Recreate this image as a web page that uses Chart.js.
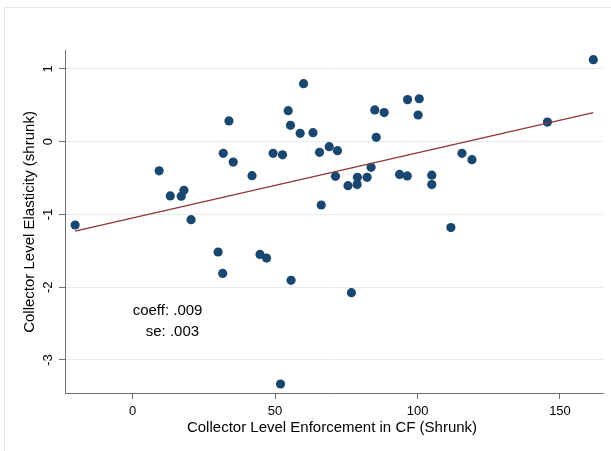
<!DOCTYPE html>
<html><head><meta charset="utf-8">
<script src="https://cdn.jsdelivr.net/npm/chart.js@4.4.1/dist/chart.umd.min.js"></script>
<style>html,body{margin:0;padding:0;background:#fff;}#wrap{width:611px;height:451px;}</style>
</head><body><div id="wrap"><canvas id="c" width="611" height="451"></canvas></div>
<script>
// Data
const enforcement = [-20.2, 9.3, 13.2, 17.05, 18.0, 20.5, 30.0, 33.8, 31.8, 35.3, 41.9, 31.6, 44.7, 47.0, 55.6, 51.9, 49.3, 52.6, 54.6, 55.4, 58.8, 60.0, 63.3, 65.6, 69.0, 71.9, 66.2, 71.2, 75.6, 78.9, 78.8, 82.3, 83.7, 85.0, 88.3, 85.5, 96.5, 100.6, 100.2, 93.7, 96.4, 105.0, 105.0, 111.7, 115.6, 119.1, 145.6, 161.7, 76.8];
const elasticity = [-1.145, -0.40, -0.746, -0.75, -0.668, -1.072, -1.516, 0.285, -0.16, -0.28, -0.467, -1.81, -1.55, -1.60, -1.905, -3.33, -0.16, -0.18, 0.426, 0.225, 0.115, 0.797, 0.124, -0.146, -0.069, -0.124, -0.87, -0.476, -0.605, -0.49, -0.59, -0.49, -0.352, 0.436, 0.40, 0.06, 0.578, 0.59, 0.367, -0.45, -0.47, -0.46, -0.59, -1.18, -0.16, -0.247, 0.27, 1.127, -2.075];
const fitX = [-20.2, 161.7];
const fitY = [-1.23, 0.40];
const xTicks = [0, 50, 100, 150];
const yTicks = [-3, -2, -1, 0, 1];
const xTitle = 'Collector Level Enforcement in CF (Shrunk)';
const yTitle = 'Collector Level Elasticity (shrunk)';
const noteLines = ['coeff: .009', 'se: .003'];
const noteX = [0, 4.6];
const noteY = [-2.33, -2.62];

const FONT = '"Liberation Sans", Arial, Helvetica, sans-serif';

const decor = {
  id: 'decor',
  beforeDraw(chart) {
    const ctx = chart.ctx;
    ctx.save();
    ctx.fillStyle = '#ffffff';
    ctx.fillRect(0, 0, chart.width, chart.height);
    ctx.strokeStyle = '#e2eaec';
    ctx.lineWidth = 1;
    ctx.beginPath();
    ctx.moveTo(4.5, chart.height);
    ctx.lineTo(4.5, 7.5);
    ctx.lineTo(chart.width, 7.5);
    ctx.stroke();
    ctx.restore();
  },
  afterDraw(chart) {
    const ctx = chart.ctx;
    const xs = chart.scales.x, ys = chart.scales.y;
    ctx.save();
    ctx.fillStyle = '#000';
    // y tick labels rotated
    ctx.font = '13px ' + FONT;
    ctx.textAlign = 'center';
    ctx.textBaseline = 'middle';
    ys.ticks.forEach(t => {
      const py = ys.getPixelForValue(t.value);
      ctx.save();
      ctx.translate(48, py);
      ctx.rotate(-Math.PI / 2);
      ctx.fillText(String(t.value), 0, 0);
      ctx.restore();
    });
    // axis titles
    ctx.font = '15px ' + FONT;
    ctx.fillText(xTitle, 332, 428);
    ctx.save();
    ctx.translate(30, 222);
    ctx.rotate(-Math.PI / 2);
    ctx.fillText(yTitle, 0, 0);
    ctx.restore();
    // notes
    ctx.textAlign = 'left';
    noteLines.forEach((s, i) => {
      ctx.fillText(s, xs.getPixelForValue(noteX[i]), ys.getPixelForValue(noteY[i]));
    });
    ctx.restore();
  }
};

new Chart(document.getElementById('c'), {
  data: {
    datasets: [
      {
        type: 'line',
        data: fitX.map((x, i) => ({x, y: fitY[i]})),
        borderColor: '#90353b',
        borderWidth: 1.3,
        pointRadius: 0,
        fill: false,
        order: 0
      },
      {
        type: 'scatter',
        data: enforcement.map((x, i) => ({x, y: elasticity[i]})),
        backgroundColor: '#1a476f',
        borderColor: '#1a476f',
        borderWidth: 0,
        pointRadius: 4.6,
        order: 1
      }
    ]
  },
  options: {
    responsive: false,
    animation: false,
    devicePixelRatio: 1,
    layout: {padding: {top: 50, right: 8, left: 0, bottom: 0}},
    plugins: {legend: {display: false}, tooltip: {enabled: false}},
    scales: {
      x: {
        type: 'linear',
        min: -23.75,
        max: 165.1,
        afterBuildTicks: s => { s.ticks = xTicks.map(v => ({value: v})); },
        afterFit: s => { s.height = 58; },
        grid: {drawOnChartArea: false, tickLength: 6, color: '#707070', tickColor: '#707070'},
        border: {color: '#707070', width: 1},
        ticks: {font: {family: FONT, size: 13}, color: '#000', padding: 5, maxRotation: 0}
      },
      y: {
        type: 'linear',
        min: -3.454,
        max: 1.26,
        afterBuildTicks: s => { s.ticks = yTicks.map(v => ({value: v})); },
        afterFit: s => { s.width = 65; },
        grid: {color: '#e3ecee', tickLength: 6, tickColor: '#707070', lineWidth: 1},
        border: {color: '#707070', width: 1},
        ticks: {display: false}
      }
    }
  },
  plugins: [decor]
});
</script>
</body></html>
